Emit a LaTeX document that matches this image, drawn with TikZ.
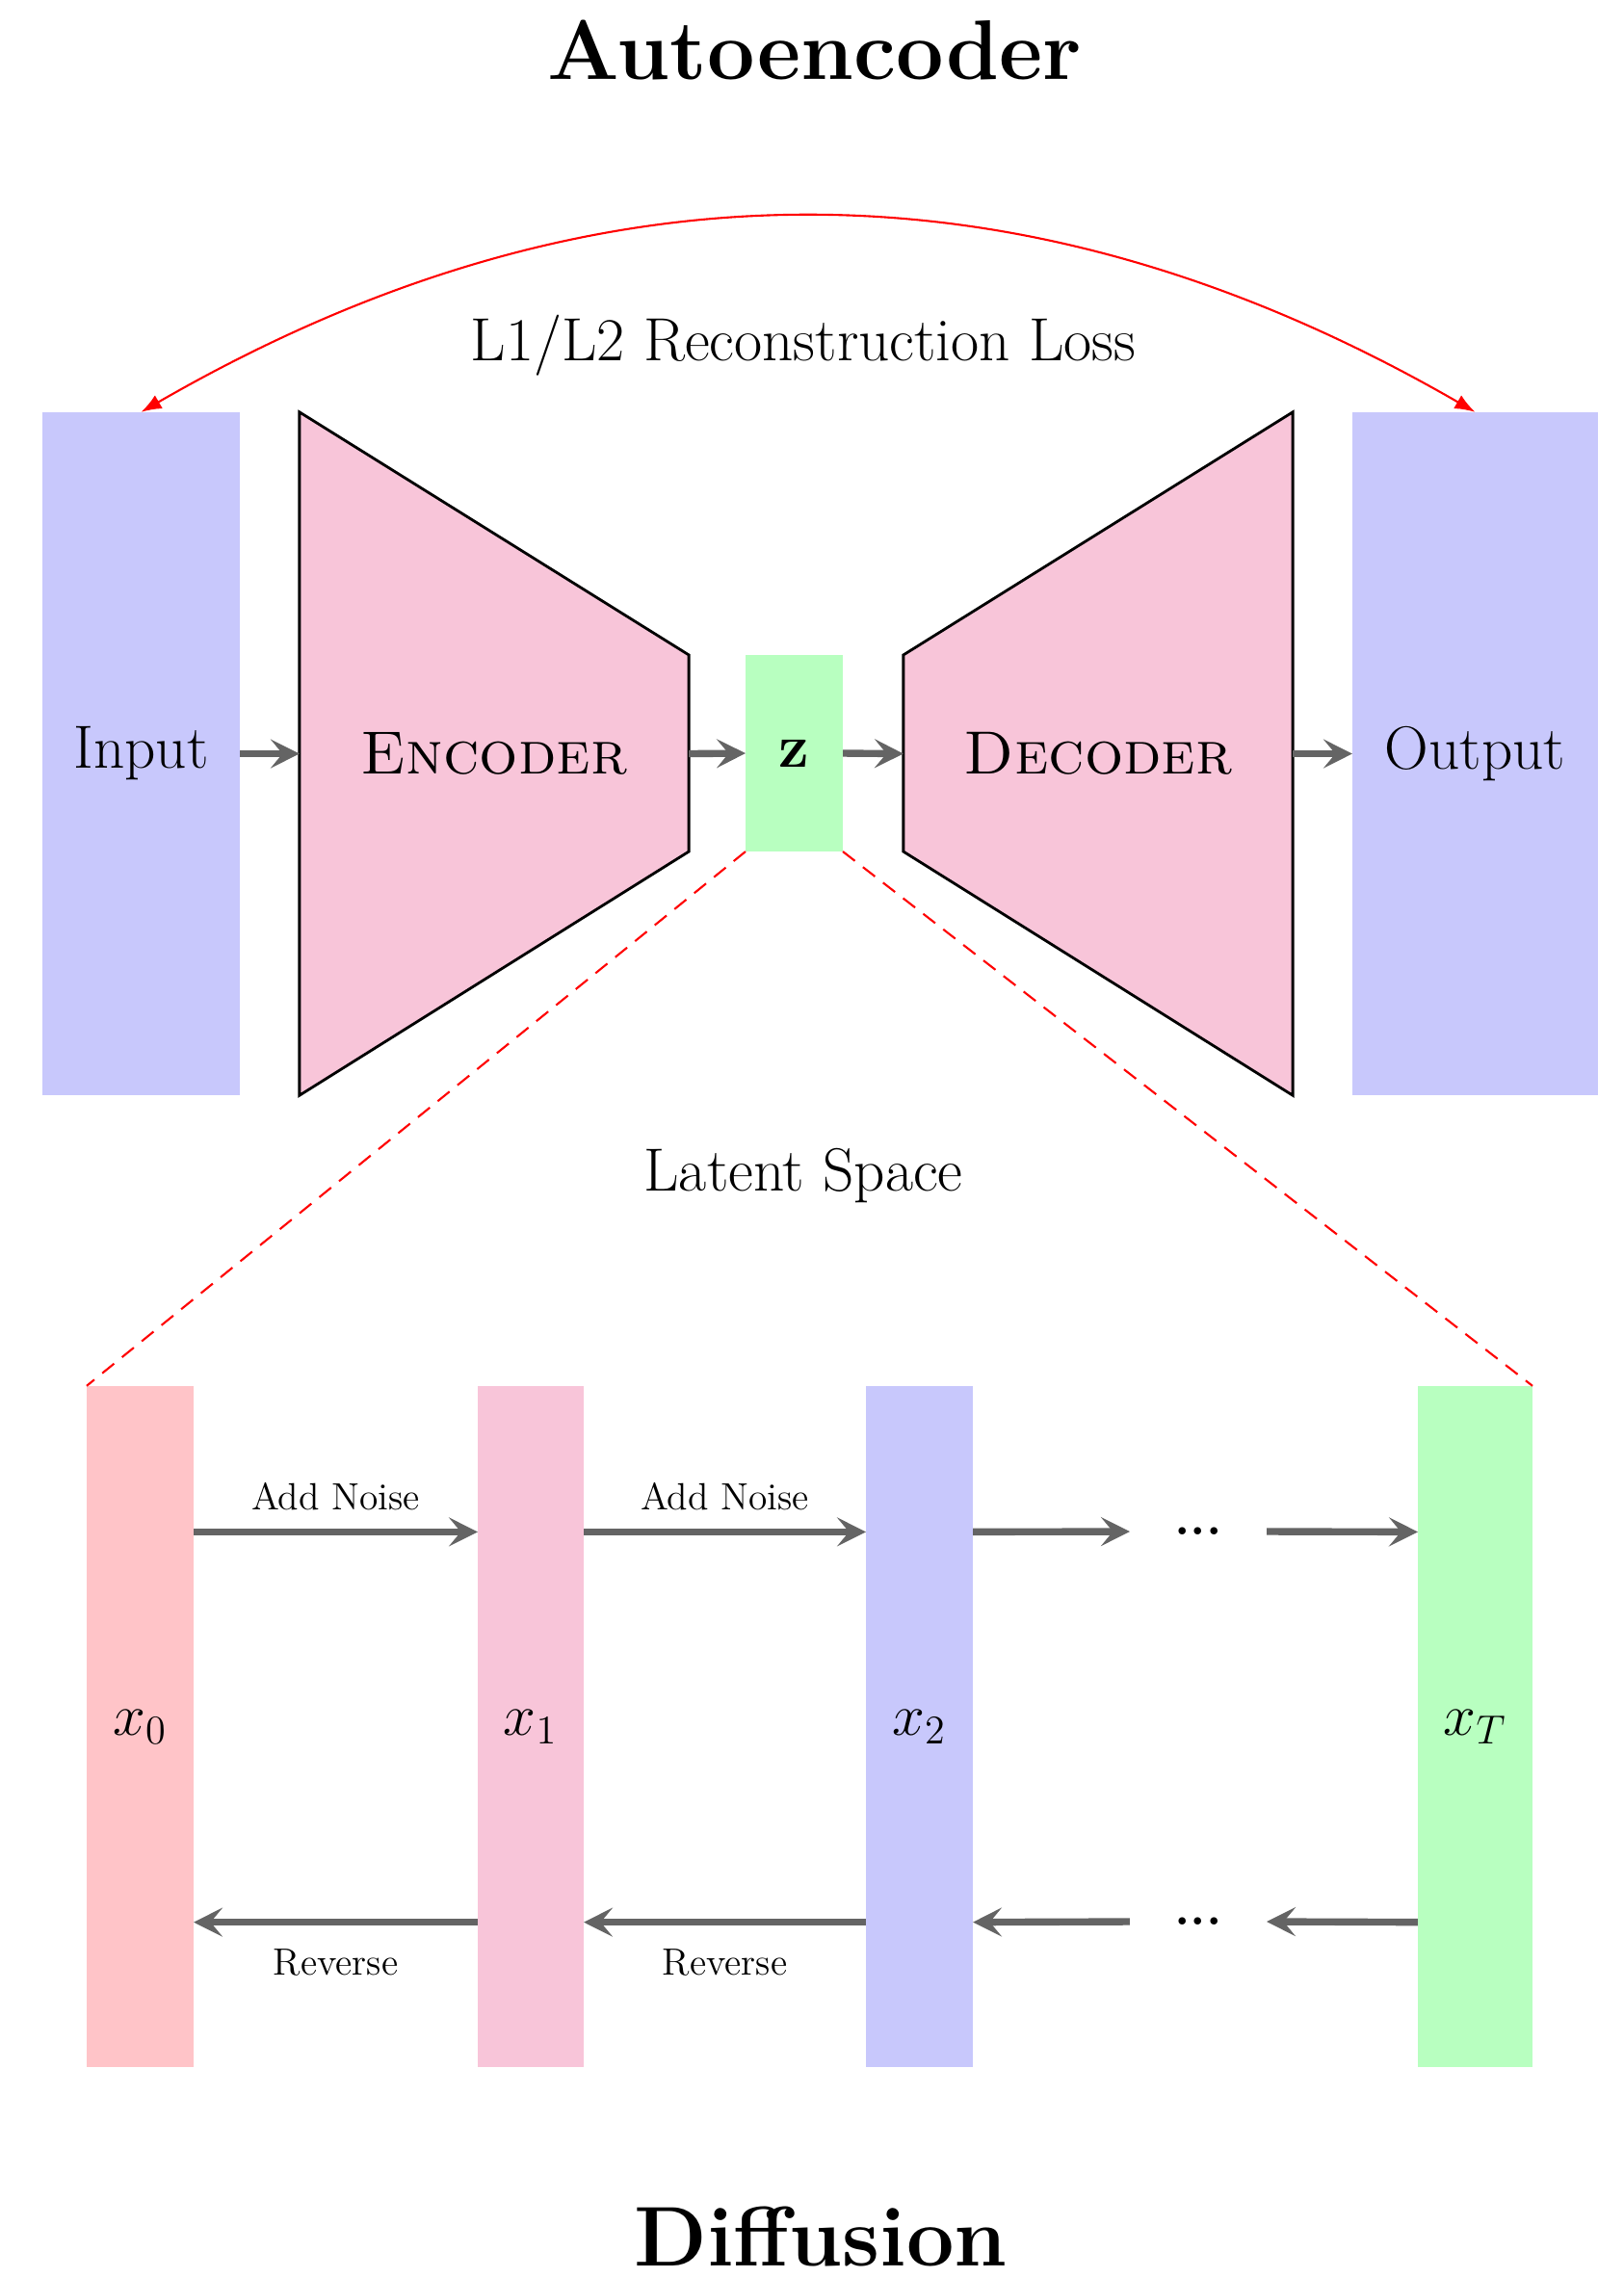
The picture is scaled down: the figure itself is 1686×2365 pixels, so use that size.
\documentclass[tikz,border=0pt]{standalone}
\usetikzlibrary{arrows.meta,backgrounds}

\definecolor{lav}{RGB}{200,200,252}
\definecolor{rose}{RGB}{248,197,217}
\definecolor{mint}{RGB}{184,255,192}
\definecolor{blush}{RGB}{255,196,200}
\definecolor{arrowgray}{RGB}{100,100,100}

\begin{document}
\begin{tikzpicture}[x=0.01cm,y=-0.01cm,
  block/.style={draw=none, inner sep=0pt, outer sep=0pt, font=\fontsize{18}{21}\selectfont},
  bar/.style={block, minimum height=7.07cm},
  flow/.style={draw=arrowgray, line width=2.1pt, -{Stealth[length=8.5pt,width=8.5pt,inset=3.5pt]}},
  loss/.style={red, line width=0.6pt, {Latex[length=6pt,width=4.5pt]}-{Latex[length=6pt,width=4.5pt]}},
  zoomline/.style={red, line width=0.6pt, dash pattern=on 4.5pt off 3pt},
  title/.style={anchor=base, inner sep=0pt, font=\fontsize{25}{30}\selectfont\bfseries},
  caption/.style={inner sep=0pt, font=\fontsize{18}{21}\selectfont},
  small/.style={inner sep=0pt, font=\fontsize{11.2}{13}\selectfont},
  dotsnode/.style={inner sep=0pt, outer sep=0pt, minimum width=1.42cm, font=\fontsize{15}{17}\selectfont\bfseries}]

\useasboundingbox (0,0) rectangle (1686,2365);

% ---------- Autoencoder ----------
\node[title] (t1) at (846,82) {Autoencoder};

\node[block, fill=lav, minimum width=2.05cm, minimum height=7.09cm] (in) at (146.5,782.5) {Input};
\node[block, minimum width=4.04cm, minimum height=7.09cm] (enc) at (513,782.5) {\textsc{Encoder}};
\node[block, fill=mint, minimum width=1.01cm, minimum height=2.04cm] (z) at (824.5,782) {\textbf{z}};
\node[block, minimum width=4.04cm, minimum height=7.09cm] (dec) at (1140,782.5) {\textsc{Decoder}};
\node[block, fill=lav, minimum width=2.55cm, minimum height=7.09cm] (out) at (1531.5,782.5) {Output};

% trapezoidal encoder / decoder bodies
\begin{scope}[on background layer]
  \draw[fill=rose, line width=0.8pt, line join=miter]
    (enc.north west) -- ([yshift=-2.52cm]enc.north east)
    -- ([yshift=2.53cm]enc.south east) -- (enc.south west) -- cycle;
  \draw[fill=rose, line width=0.8pt, line join=miter]
    (dec.north east) -- ([yshift=-2.52cm]dec.north west)
    -- ([yshift=2.53cm]dec.south west) -- (dec.south east) -- cycle;
\end{scope}

\draw[flow] (in.east) -- (enc.west);
\draw[flow] (enc.east) -- (z.west);
\draw[flow] (z.east) -- (dec.west);
\draw[flow] (dec.east) -- (out.west);

\node[caption] (lossl) at (834,359) {L1/L2 Reconstruction Loss};
\draw[loss] (in.north) to[bend left=30] (out.north);

% ---------- Latent space ----------
\node[caption] (lat) at (834,1221) {Latent Space};

% ---------- Diffusion ----------
\node[bar, fill=blush, minimum width=1.11cm] (x0) at (145.5,1792.5) {$x_0$};
\node[bar, fill=rose,  minimum width=1.10cm] (x1) at (551,1792.5)   {$x_1$};
\node[bar, fill=lav,   minimum width=1.11cm] (x2) at (954.5,1792.5) {$x_2$};
\node[bar, fill=mint,  minimum width=1.19cm] (xT) at (1531.5,1792.5) {$x_T$};

\draw[zoomline] (z.south west) -- (x0.north west);
\draw[zoomline] (z.south east) -- (xT.north east);

\node[dotsnode] (df) at (1244,1590) {...};
\node[dotsnode] (dr) at (1244,1995) {...};

% forward (noising) chain
\draw[flow] ([yshift=2.02cm]x0.east) -- node[small, midway, yshift=0.37cm] {Add Noise} ([yshift=2.02cm]x1.west);
\draw[flow] ([yshift=2.02cm]x1.east) -- node[small, midway, yshift=0.37cm] {Add Noise} ([yshift=2.02cm]x2.west);
\draw[flow] ([yshift=2.02cm]x2.east) -- (df.west);
\draw[flow] (df.east) -- ([yshift=2.02cm]xT.west);

% reverse (denoising) chain
\draw[flow] ([yshift=-2.03cm]x1.west) -- node[small, midway, yshift=-0.42cm] {Reverse} ([yshift=-2.03cm]x0.east);
\draw[flow] ([yshift=-2.03cm]x2.west) -- node[small, midway, yshift=-0.42cm] {Reverse} ([yshift=-2.03cm]x1.east);
\draw[flow] (dr.west) -- ([yshift=-2.03cm]x2.east);
\draw[flow] ([yshift=-2.03cm]xT.west) -- (dr.east);

\node[title] (t2) at (852,2352) {Diffusion};

\end{tikzpicture}
\end{document}
